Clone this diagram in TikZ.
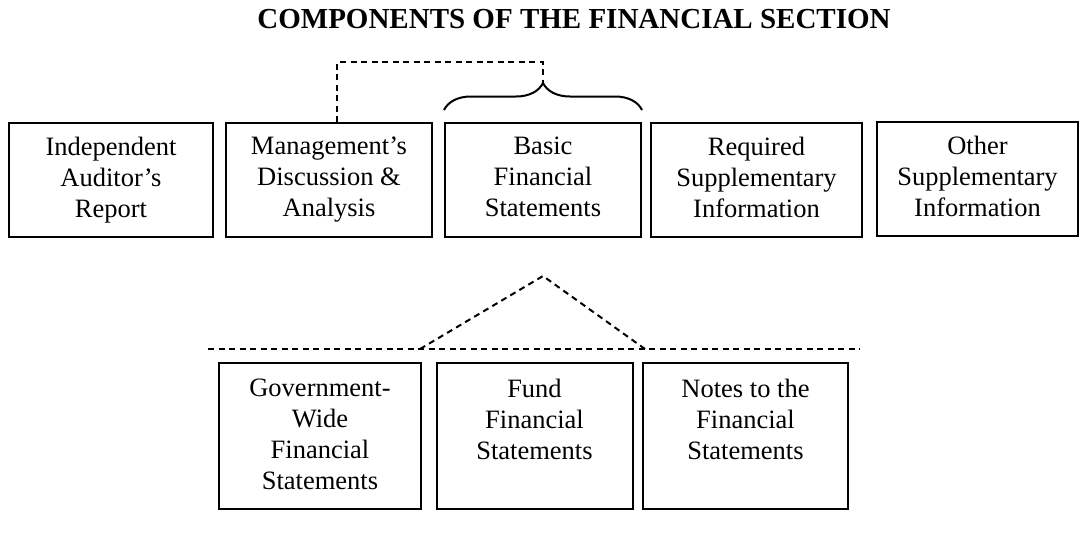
\documentclass[tikz,border=0pt]{standalone}
\usepackage{fontspec}
\setmainfont{Liberation Serif}
\usetikzlibrary{positioning, decorations.pathreplacing}

% text set from the top of its box
\newcommand{\toptext}[2]{\begin{minipage}[c][#1][t]{196pt}\centering #2\end{minipage}}

\tikzset{
    component/.style={
        rectangle, draw=black, line width=2pt, align=center, inner xsep=0pt, inner ysep=14pt,
        minimum height=114pt, font=\fontsize{26.5}{31}\selectfont
    },
    part/.style={
        rectangle, draw=black, line width=2pt, align=center, inner xsep=0pt, inner ysep=16pt,
        minimum height=146pt, font=\fontsize{26.5}{31}\selectfont
    },
    link/.style={
        line width=2pt, dash pattern=on 6pt off 4.5pt
    }
}

\begin{document}
\begin{tikzpicture}[x=1pt, y=-1pt]
    \useasboundingbox (0,0) rectangle (1080,533);

    % Title
    \node[font=\fontsize{29}{34}\selectfont\bfseries] (title) at (574,19) {COMPONENTS OF THE FINANCIAL SECTION};

    % Top row
    \node[component, minimum width=204pt] (auditor) at (111,180) {\toptext{86pt}{Independent\\Auditor's\\Report}};
    \node[component, minimum width=206pt] (mda) at (329,180) {\toptext{86pt}{Management's\\Discussion \&\\Analysis}};
    \node[component, minimum width=192pt] (basic) at (543,180) {\toptext{86pt}{Basic\\Financial\\Statements}};
    \node[component, minimum width=211pt] (rsi) at (756.5,180) {\toptext{86pt}{Required\\Supplementary\\Information}};
    \node[component, minimum width=201pt] (osi) at (977.5,179) {\toptext{86pt}{Other\\Supplementary\\Information}};

    % Brace over the basic statements
    \draw[decorate, decoration={brace, amplitude=27pt}, line width=2pt]
        ([yshift=12pt]basic.north west) -- ([yshift=12pt]basic.north east);
    \coordinate (bracetip) at ([yshift=39pt]basic.north);
    \draw[link] ([xshift=8pt]mda.north) -- ++(0,-60) -| (bracetip);

    % Bottom row
    \node[part, minimum width=202pt] (gwide) at (320,436) {\toptext{114pt}{Government-\\Wide\\Financial\\Statements}};
    \node[part, minimum width=195pt] (fund) at (534.5,436) {\toptext{114pt}{Fund\\Financial\\Statements}};
    \node[part, minimum width=205pt] (notes) at (745.5,436) {\toptext{114pt}{Notes to the\\Financial\\Statements}};

    % Dashed roof
    \coordinate (apex) at ([yshift=-38pt]basic.south);
    \coordinate (footwest) at (420,349);
    \coordinate (footeast) at (645,349);
    \coordinate (rulewest) at (208,349);
    \coordinate (ruleeast) at (860,349);
    \draw[link] (rulewest) -- (ruleeast);
    \draw[link] (footwest) -- (apex) -- (footeast);

\end{tikzpicture}
\end{document}
